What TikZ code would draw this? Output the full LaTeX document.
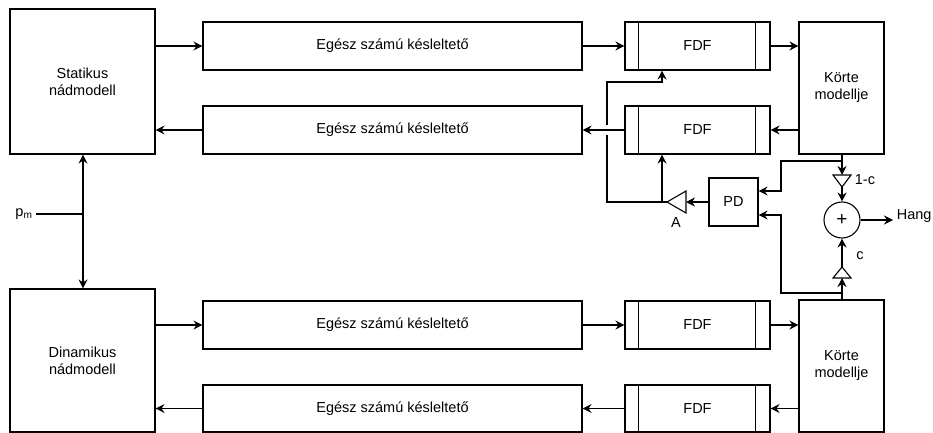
\documentclass[tikz,border=0pt]{standalone}
\usepackage{fontspec}
\setmainfont{Liberation Sans}
\usetikzlibrary{arrows.meta}

\tikzset{
    blk/.style={draw, rectangle, fill=white, align=center, inner sep=0pt},
    arr/.style={-{Stealth[length=9pt, width=9pt, inset=3pt]}},
    arrs/.style={{Stealth[length=9pt, width=9pt, inset=3pt]}-{Stealth[length=9pt, width=9pt, inset=3pt]}},
}

\begin{document}
\begin{tikzpicture}[x=1pt, y=-1pt, line width=1.1pt, font=\fontsize{14.5}{17}\selectfont]
        \useasboundingbox (0,0) rectangle (933,433);

        %nodes
        \node[blk, minimum width=145pt, minimum height=145pt] (stat) at (82.5, 81.5) {Statikus\\nádmodell};
        \node[blk, minimum width=145pt, minimum height=143pt] (dyn) at (82.5, 360.5) {Dinamikus\\nádmodell};

        \node[blk, minimum width=379pt, minimum height=48pt] (d1) at (392.5, 46) {Egész számú késleltető};
        \node[blk, minimum width=379pt, minimum height=48pt] (d2) at (392.5, 130) {Egész számú késleltető};
        \node[blk, minimum width=379pt, minimum height=48pt] (d3) at (392.5, 325) {Egész számú késleltető};
        \node[blk, minimum width=379pt, minimum height=47pt] (d4) at (392.5, 408.5) {Egész számú késleltető};

        \node[blk, minimum width=145pt, minimum height=48pt] (f1) at (697.5, 46) {FDF};
        \node[blk, minimum width=145pt, minimum height=48pt] (f2) at (697.5, 130) {FDF};
        \node[blk, minimum width=145pt, minimum height=48pt] (f3) at (697.5, 325) {FDF};
        \node[blk, minimum width=145pt, minimum height=47pt] (f4) at (697.5, 408.5) {FDF};
        \foreach \f in {f1, f2, f3, f4} {
            \draw ([xshift=14pt]\f.north west) -- ([xshift=14pt]\f.south west);
            \draw ([xshift=-15pt]\f.north east) -- ([xshift=-15pt]\f.south east);
        }

        \node[blk, minimum width=85pt, minimum height=132pt] (k1) at (841.5, 88) {Körte\\modellje};
        \node[blk, minimum width=85pt, minimum height=132pt] (k2) at (841.5, 366) {Körte\\modellje};

        \node[blk, minimum width=49pt, minimum height=48pt] (pd) at (733.5, 202) {PD};
        \node[draw, circle, minimum size=36pt, inner sep=0pt, font=\fontsize{19}{20}\selectfont] (sum) at (842, 220) {+};

        %amplifiers
        \draw (686,191) -- (686,213) -- (667,202) -- cycle;
        \coordinate (ain) at (686,202);
        \coordinate (aout) at (667,202);
        \node (alabel) at (676,223) {A};

        \draw (833,175) -- (851,175) -- (842,187) -- cycle;
        \coordinate (gin) at (842,175);
        \coordinate (gout) at (842,187);
        \node[anchor=west] (glabel) at (851,180) {1-c};

        \draw (833,278) -- (851,278) -- (842,267) -- cycle;
        \coordinate (cin) at (842,278);
        \coordinate (cout) at (842,267);
        \node (clabel) at (860,256) {c};

        \node[anchor=west] (out) at (893,216) {Hang};
        \node (pm) at (24,214) {p$_{\mathrm{m}}$};

        %edges
        \draw[arr] (stat.east |- d1) -- (d1.west);
        \draw[arr] (d2.west) -- (stat.east |- d2);
        \draw[arr] (dyn.east |- d3) -- (d3.west);
        \draw[arr] (d4.west) -- (dyn.east |- d4);

        \draw[arr] (d1.east) -- (f1.west);
        \draw[arr] (f2.west) -- (d2.east);
        \draw[arr] (d3.east) -- (f3.west);
        \draw[arr] (f4.west) -- (d4.east);

        \draw[arr] (f1.east) -- (k1.west |- f1);
        \draw[arr] (k1.west |- f2) -- (f2.east);
        \draw[arr] (f3.east) -- (k2.west |- f3);
        \draw[arr] (k2.west |- f4) -- (f4.east);

        \draw (pm.east) -- (83,214);
        \draw[arrs] (stat.south -| 83,0) -- (dyn.north -| 83,0);

        %feedback through the A gain
        \draw[arr] (pd.west) -- (ain);
        \draw (aout) -- (607,202) -- (607,135);
        \draw[arr] (607,125) -- (607,82) -- (662,82) -- (f1.south -| 662,0);
        \draw[arr] (662,202) -- (f2.south -| 662,0);

        %mixing of the two bodies
        \draw[arr] (k1.south -| gin) -- (gin);
        \draw[arr] (842,161) -- (781,161) -- (781,191) -- (pd.east |- 0,191);
        \draw[arr] (gout) -- (sum.north);
        \draw[arr] (k2.north -| cin) -- (cin);
        \draw[arr] (842,293) -- (781,293) -- (781,215) -- (pd.east |- 0,215);
        \draw[arr] (cout) -- (sum.south);
        \draw[arr] (sum.east) -- (sum.east -| out.west);
    \end{tikzpicture}
\end{document}
